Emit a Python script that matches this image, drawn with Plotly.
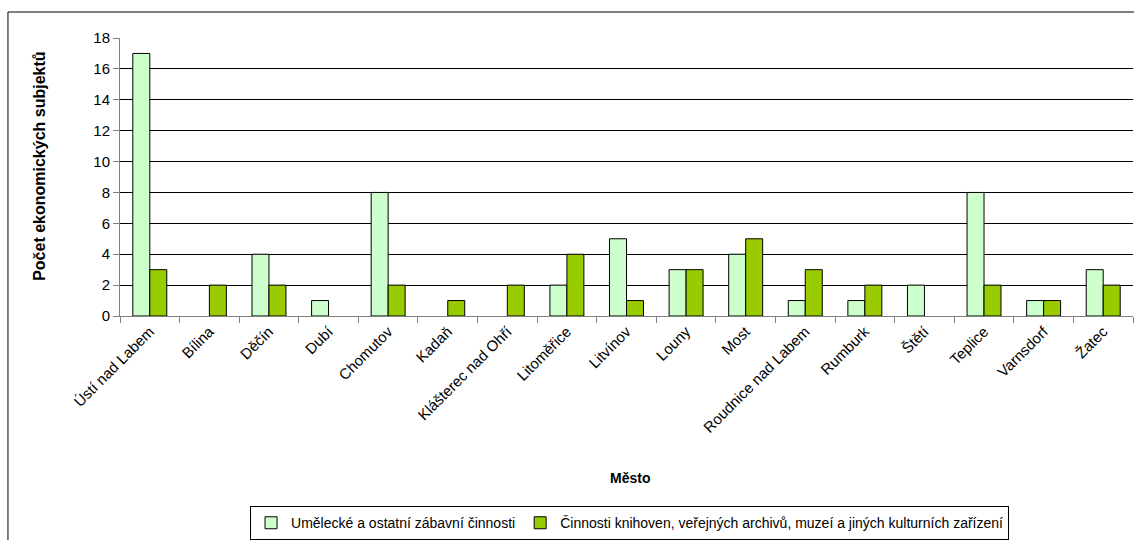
import plotly.graph_objects as go

cities = ["Ústí nad Labem", "Bílina", "Děčín", "Dubí", "Chomutov", "Kadaň",
          "Klášterec nad Ohří", "Litoměřice", "Litvínov", "Louny", "Most",
          "Roudnice nad Labem", "Rumburk", "Štětí", "Teplice", "Varnsdorf", "Žatec"]
umelecke = [17, 0, 4, 1, 8, 0, 0, 2, 5, 3, 4, 1, 1, 2, 8, 1, 3]
knihovny = [3, 2, 2, 0, 2, 1, 2, 4, 1, 3, 5, 3, 2, 0, 2, 1, 2]
series_names = ["Umělecké a ostatní zábavní činnosti",
                "Činnosti knihoven, veřejných archivů, muzeí a jiných kulturních zařízení"]
y_ticks = [0, 2, 4, 6, 8, 10, 12, 14, 16, 18]

FONT = "Liberation Sans, Arial, sans-serif"


def hide_zero(vals):
    return [v if v != 0 else None for v in vals]


fig = go.Figure()
fig.add_trace(go.Bar(x=cities, y=hide_zero(umelecke), name=series_names[0],
                     marker=dict(color="#CCFFCC", line=dict(color="black", width=1))))
fig.add_trace(go.Bar(x=cities, y=hide_zero(knihovny), name=series_names[1],
                     marker=dict(color="#99CC00", line=dict(color="black", width=1))))

fig.update_layout(
    width=1134, height=540,
    margin=dict(l=120, r=1, t=38, b=224, autoexpand=False),
    paper_bgcolor="white", plot_bgcolor="white",
    barmode="group", bargap=0.43, bargroupgap=0,
    font=dict(family=FONT, size=15, color="black"),
    showlegend=True,
    legend=dict(orientation="h", x=0.503, xanchor="center", y=-0.684, yanchor="top",
                bordercolor="black", borderwidth=1, font=dict(size=14, family=FONT),
                itemwidth=30, traceorder="normal", tracegroupgap=0),
    xaxis=dict(type="category", tickangle=-45, showline=True, linecolor="#808080",
               ticks="outside", tickson="boundaries", ticklen=6, tickcolor="#808080",
               showgrid=False, tickfont=dict(size=15), automargin=False),
    yaxis=dict(range=[0, 18], tickvals=y_ticks, showline=True, linecolor="#808080",
               ticks="outside", ticklen=6, tickcolor="#808080", showgrid=True,
               gridcolor="#000000", gridwidth=1, zeroline=False, tickfont=dict(size=15),
               automargin=False),
    shapes=[dict(type="rect", xref="paper", yref="paper", x0=-0.1106, x1=1.05,
                 y0=-0.95, y1=1.0935, line=dict(color="black", width=1))],
    annotations=[
        dict(text="<b>Počet ekonomických subjektů</b>", xref="paper", yref="paper",
             x=-0.079, y=0.54, xanchor="center", yanchor="middle", textangle=-90,
             showarrow=False, font=dict(size=16)),
        dict(text="<b>Město</b>", xref="paper", yref="paper",
             x=0.503, y=-0.583, xanchor="center", yanchor="middle",
             showarrow=False, font=dict(size=14)),
    ],
)

fig.write_html("out.html")
